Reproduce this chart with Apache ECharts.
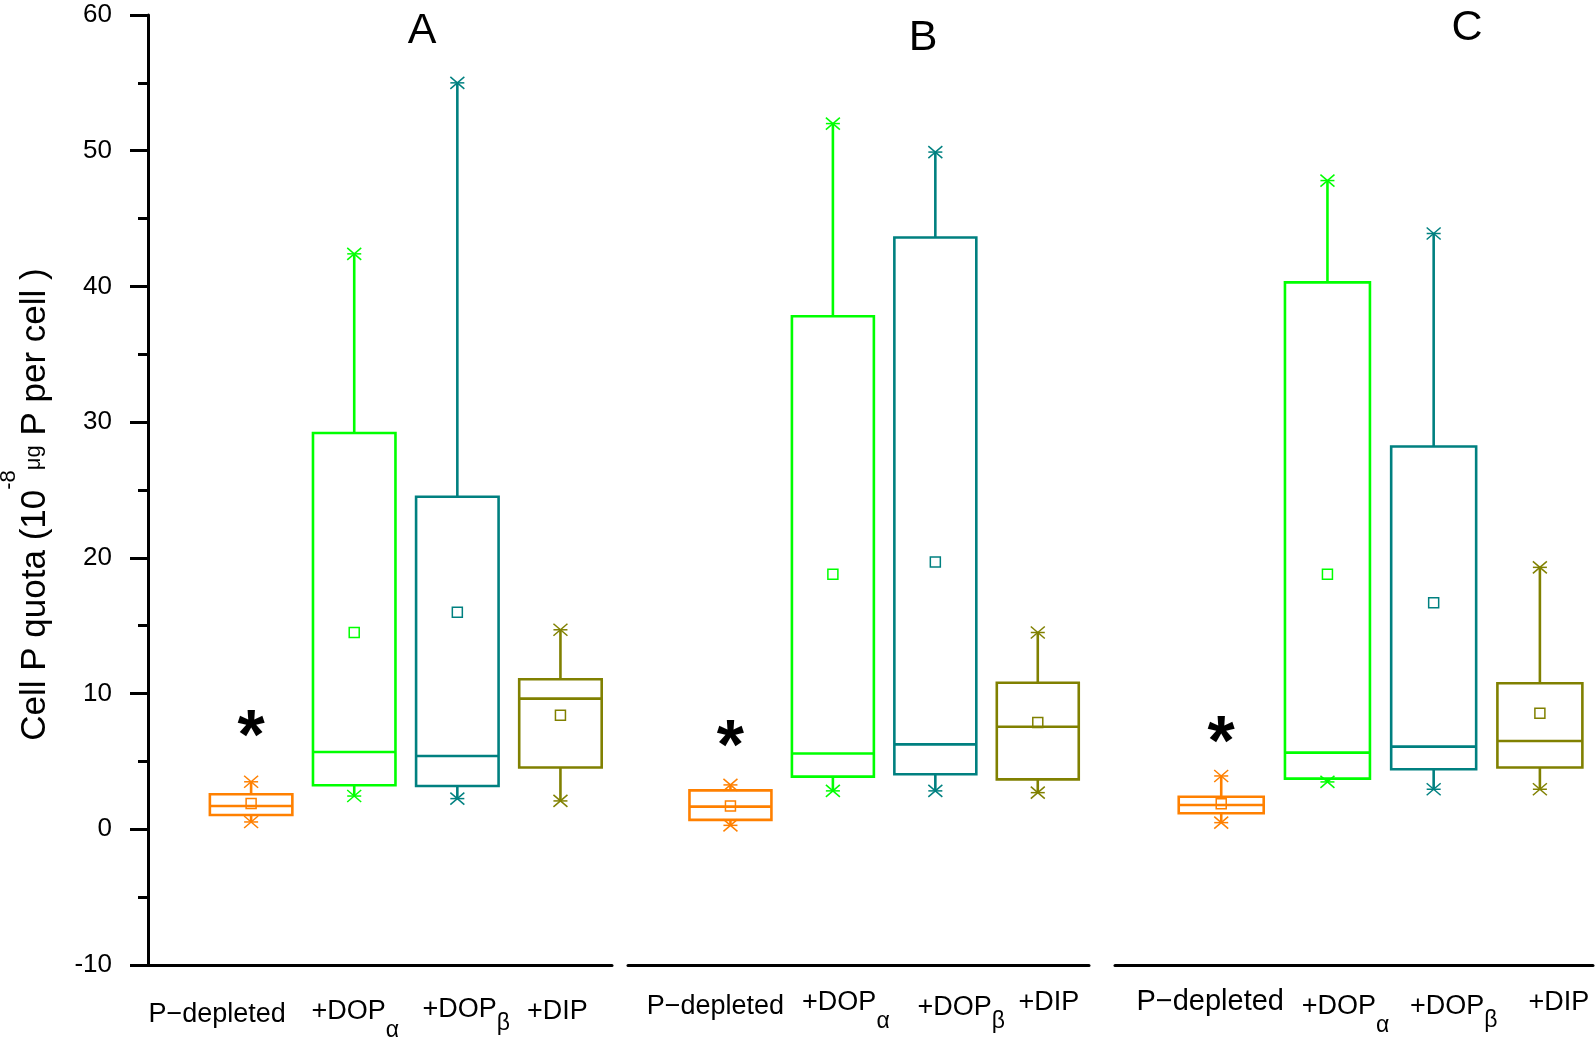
<!DOCTYPE html>
<html>
<head>
<meta charset="utf-8">
<script src="https://cdn.jsdelivr.net/npm/echarts@6/dist/echarts.min.js"></script>
<style>
html,body{margin:0;padding:0;background:#ffffff;}
#chart{width:1595px;height:1042px;}
</style>
</head>
<body>
<div id="chart"></div>
<script>
// ---------- data ----------
const categories = ['P\u2212depleted', '+DOP\u03b1', '+DOP\u03b2', '+DIP'];
const positions = [1, 2, 3, 4];
const catColors = ['#ff8000', '#00ff00', '#008080', '#808000'];
const panelNames = ['A', 'B', 'C'];
const yMin = -10, yMax = 60, yStep = 10;

// Panel A
const lowA  = [0.54, 2.45, 2.26, 2.09];
const q1A   = [1.05, 3.24, 3.19, 4.55];
const medA  = [1.72, 5.70, 5.40, 9.63];
const q3A   = [2.58, 29.2, 24.5, 11.05];
const highA = [3.50, 42.4, 55.0, 14.7];
const meanA = [1.90, 14.5, 16.0, 8.40];
// Panel B
const lowB  = [0.29, 2.83, 2.83, 2.70];
const q1B   = [0.69, 3.88, 4.05, 3.68];
const medB  = [1.67, 5.58, 6.26, 7.55];
const q3B   = [2.87, 37.8, 43.6, 10.8];
const highB = [3.27, 52.0, 49.9, 14.5];
const meanB = [1.72, 18.8, 19.7, 7.86];
// Panel C
const lowC  = [0.49, 3.49, 2.95, 2.95];
const q1C   = [1.18, 3.73, 4.42, 4.55];
const medC  = [1.79, 5.65, 6.09, 6.50];
const q3C   = [2.40, 40.3, 28.2, 10.76];
const highC = [3.93, 47.8, 43.9, 19.3];
const meanC = [1.89, 18.8, 16.7, 8.55];

// significance asterisks (position, value)
const starA = [1, 7.74];
const starB = [1, 6.96];
const starC = [1, 7.30];

// ---------- build ----------
const FONT = 'Arial, "Liberation Sans", sans-serif';
const panels = [
  {low: lowA, q1: q1A, med: medA, q3: q3A, high: highA, mean: meanA, star: starA},
  {low: lowB, q1: q1B, med: medB, q3: q3B, high: highB, mean: meanB, star: starB},
  {low: lowC, q1: q1C, med: medC, q3: q3C, high: highC, mean: meanC, star: starC}
];

function boxData(p) {
  return positions.map((x, i) => [x, p.low[i], p.q1[i], p.med[i], p.q3[i], p.high[i], p.mean[i], i]);
}

function starShape(cx, cy, color) {
  const hw = 7, hh = 6;
  const st = {stroke: color, lineWidth: 1.5, fill: null};
  return [
    {type: 'line', shape: {x1: cx - hw, y1: cy - hh, x2: cx + hw, y2: cy + hh}, style: st},
    {type: 'line', shape: {x1: cx - hw, y1: cy + hh, x2: cx + hw, y2: cy - hh}, style: st},
    {type: 'line', shape: {x1: cx - hw, y1: cy, x2: cx + hw, y2: cy}, style: st}
  ];
}

function renderBox(params, api) {
  const x = api.value(0);
  const ci = api.value(7);
  const color = catColors[ci];
  const cx = api.coord([x, 0])[0];
  const w = api.size([0.8, 0])[0];
  const yLow = api.coord([x, api.value(1)])[1];
  const yQ1 = api.coord([x, api.value(2)])[1];
  const yMed = api.coord([x, api.value(3)])[1];
  const yQ3 = api.coord([x, api.value(4)])[1];
  const yHigh = api.coord([x, api.value(5)])[1];
  const yMean = api.coord([x, api.value(6)])[1];
  const lw = 2.6;
  const st = {stroke: color, lineWidth: lw, fill: null};
  const children = [
    {type: 'line', shape: {x1: cx, y1: yQ3, x2: cx, y2: yHigh}, style: st},
    {type: 'line', shape: {x1: cx, y1: yQ1, x2: cx, y2: yLow}, style: st},
    {type: 'rect', shape: {x: cx - w / 2, y: yQ3, width: w, height: yQ1 - yQ3}, style: st},
    {type: 'line', shape: {x1: cx - w / 2, y1: yMed, x2: cx + w / 2, y2: yMed}, style: st},
    {type: 'rect', shape: {x: cx - 5, y: yMean - 5, width: 10, height: 10}, style: {stroke: color, lineWidth: 1.5, fill: null}}
  ].concat(starShape(cx, yHigh, color), starShape(cx, yLow, color));
  return {type: 'group', children: children};
}

function renderStar(params, api) {
  const p = api.coord([api.value(0), api.value(1)]);
  return {
    type: 'text', x: p[0], y: p[1] + 15,
    style: {text: '*', fill: '#000', font: 'bold 70px ' + FONT, align: 'center', verticalAlign: 'middle'}
  };
}

// label layout per panel: horizontal shift and top paddings
const labelShift = [[-34, 1, 9, -3], [-15, 13, 26, 11], [-11, 18, 20, 19]];
const labelPad = [[6, 3, 1, 3], [4, 0, 5, 0], [0, 6, 6, 2]];
const labelMargin = [30, 24, 22];
const labelSize = [[27, 27, 27, 27], [27, 27, 27, 27], [29, 27, 27, 27]];

function makeRich(p) {
  const rich = {};
  for (let i = 0; i < 4; i++) {
    const dx = labelShift[p][i];
    const hasSub = (i === 1 || i === 2);
    const F = labelSize[p][i];
    const leftPad = dx > 0 ? 2 * dx : 0;
    const rightPad = dx < 0 ? -2 * dx : 0;
    rich['m' + i] = {
      fontSize: F, fontFamily: FONT, color: '#000', lineHeight: F,
      verticalAlign: 'top',
      padding: [labelPad[p][i], hasSub ? 0 : rightPad, 0, leftPad]
    };
    if (hasSub) {
      const d = (i === 1) ? 21 : 16;
      rich['s' + i] = {
        fontSize: 23, fontFamily: FONT, color: '#000', lineHeight: 23,
        verticalAlign: 'top',
        padding: [labelPad[p][i] + d, rightPad, 0, 0]
      };
    }
  }
  return rich;
}

function labelText(i) {
  if (i === 0) return '{m0|' + categories[0] + '}';
  if (i === 1) return '{m1|+DOP}{s1|' + categories[1].slice(4) + '}';
  if (i === 2) return '{m2|+DOP}{s2|' + categories[2].slice(4) + '}';
  return '{m3|' + categories[3] + '}';
}

const gridBoxes = [
  {left: 148, top: 15, width: 464, height: 950},
  {left: 628, top: 15, width: 461, height: 950},
  {left: 1115, top: 15, width: 478, height: 950}
];

const xAxes = gridBoxes.map((g, p) => ({
  gridIndex: p, type: 'value', min: 0, max: 4.5, interval: 1,
  axisLine: {show: true, onZero: false, lineStyle: {color: '#000', width: 3}},
  axisTick: {show: false}, splitLine: {show: false}, minorTick: {show: false},
  axisLabel: {
    show: true, margin: labelMargin[p], hideOverlap: false,
    showMinLabel: true, showMaxLabel: true,
    formatter: function (v) {
      const r = Math.round(v);
      if (Math.abs(v - r) > 1e-6) return '';
      const i = positions.indexOf(r);
      return i < 0 ? '' : labelText(i);
    },
    rich: makeRich(p)
  }
}));

const yAxes = gridBoxes.map((g, p) => {
  if (p > 0) {
    return {gridIndex: p, type: 'value', min: yMin, max: yMax, interval: yStep, show: false};
  }
  return {
    gridIndex: 0, type: 'value', min: yMin, max: yMax, interval: yStep,
    axisLine: {show: true, onZero: false, lineStyle: {color: '#000', width: 3}},
    axisTick: {show: true, inside: false, length: 18, lineStyle: {color: '#000', width: 3}},
    minorTick: {show: true, splitNumber: 2, length: 10, lineStyle: {color: '#000', width: 3}},
    splitLine: {show: false},
    axisLabel: {fontSize: 26, fontFamily: FONT, color: '#000', margin: 36},
    name: '{m|Cell P quota (10}{sup|-8}{mu|\u03bcg}{me| P per cell )}',
    nameLocation: 'middle', nameRotate: 90, nameGap: 95,
    nameTextStyle: {
      color: '#000', fontFamily: FONT,
      rich: {
        m: {fontSize: 35, fontFamily: FONT, color: '#000', lineHeight: 55, verticalAlign: 'bottom'},
        me: {fontSize: 35, fontFamily: FONT, color: '#000', lineHeight: 55, verticalAlign: 'bottom', padding: [0, 29, 0, 0]},
        sup: {fontSize: 22, fontFamily: FONT, color: '#000', lineHeight: 22, verticalAlign: 'top'},
        mu: {fontSize: 22, fontFamily: FONT, color: '#000', lineHeight: 22, verticalAlign: 'bottom', padding: [0, 0, 8, 0]}
      }
    }
  };
});

const series = [];
panels.forEach((p, k) => {
  series.push({
    type: 'custom', xAxisIndex: k, yAxisIndex: k, renderItem: renderBox,
    data: boxData(p), silent: true, clip: false,
    encode: {x: 0, y: [1, 2, 3, 4, 5, 6]}
  });
  series.push({
    type: 'custom', xAxisIndex: k, yAxisIndex: k, renderItem: renderStar,
    data: [p.star], silent: true, clip: false,
    encode: {x: 0, y: 1}
  });
});

const titlePos = [[422, 31], [923, 38], [1467, 28]];
const graphics = panelNames.map((t, k) => ({
  type: 'text', x: titlePos[k][0], y: titlePos[k][1], silent: true,
  style: {text: t, fill: '#000', font: '43px ' + FONT, align: 'center', verticalAlign: 'middle'}
}));

const chart = echarts.init(document.getElementById('chart'), null, {renderer: 'canvas'});
chart.setOption({
  animation: false,
  backgroundColor: '#ffffff',
  grid: gridBoxes.map(g => Object.assign({containLabel: false, outerBoundsMode: 'none'}, g)),
  xAxis: xAxes,
  yAxis: yAxes,
  series: series,
  graphic: graphics
});
</script>
</body>
</html>
